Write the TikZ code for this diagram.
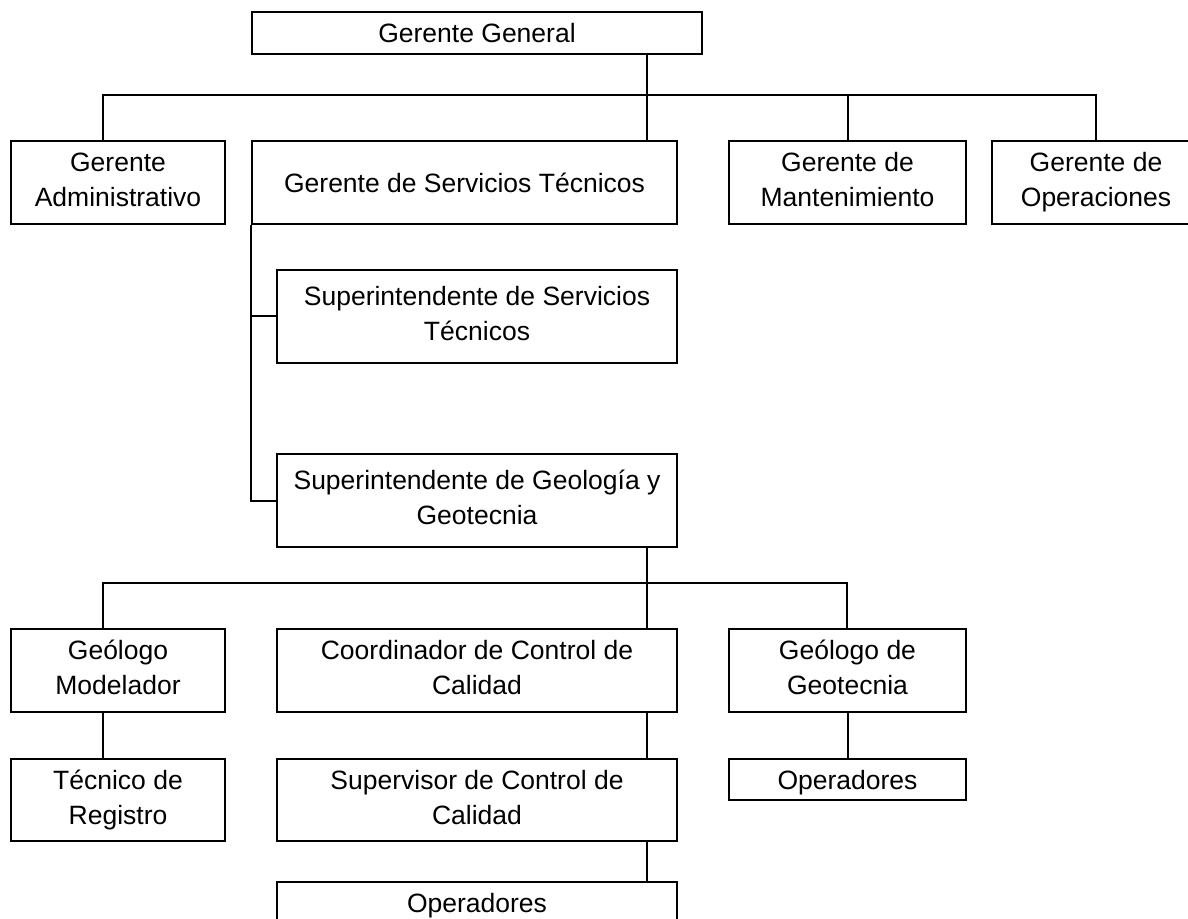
\documentclass[tikz,border=0pt]{standalone}
\usepackage{fontspec}
\setmainfont{Liberation Sans}
\usepackage{tikz}
\newcommand{\lnstrut}{\rule[-3pt]{0pt}{15.6pt}}

\begin{document}
\begin{tikzpicture}[x=0.5pt,y=0.5pt]
	\tikzstyle{every node}+=[inner sep=0pt]
	\tikzstyle{box}=[draw=black, line width=1pt, align=center, font=\fontsize{13.25}{17.5}\selectfont, execute at begin node=\lnstrut, execute at end node=\lnstrut]
	\tikzstyle{wbox}=[box, minimum width=200pt, minimum height=41.5pt]
	\tikzstyle{nbox}=[box, minimum width=107pt, minimum height=41.5pt]
	\tikzstyle{mbox}=[box, minimum width=118.5pt, minimum height=41.5pt]
	\useasboundingbox (0,0) rectangle (1188,-919);
	\clip (0,0) rectangle (1188,-919);
	\node [box, minimum width=225pt, minimum height=21pt] (gg) at (477,-33) {Gerente General};
	\node [nbox] (adm) at (118,-182.5) {Gerente\\Administrativo};
	\node [box, minimum width=212.5pt, minimum height=41.5pt] (gst) at (464.5,-182.5) {Gerente de Servicios T\'ecnicos};
	\node [mbox] (mant) at (847.5,-182.5) {Gerente de\\Mantenimiento};
	\node [box, minimum width=104pt, minimum height=41.5pt] (oper) at (1096,-182.5) {Gerente de\\Operaciones};
	\node [wbox, minimum height=46.5pt] (sst) at (477,-316.5) {Superintendente de Servicios\\T\'ecnicos};
	\node [wbox, minimum height=46.5pt] (sgg) at (477,-500.5) {Superintendente de Geolog\'ia y\\Geotecnia};
	\node [nbox] (gmod) at (118,-670.5) {Ge\'ologo\\Modelador};
	\node [wbox] (ccc) at (477,-670.5) {Coordinador de Control de\\Calidad};
	\node [mbox] (ggeo) at (847.5,-670.5) {Ge\'ologo de\\Geotecnia};
	\node [nbox, minimum height=41pt] (treg) at (118,-800) {T\'ecnico de\\Registro};
	\node [wbox, minimum height=41pt] (scc) at (477,-800) {Supervisor de Control de\\Calidad};
	\node [mbox, minimum height=20.5pt] (opa) at (847.5,-779.5) {Operadores};
	\node [wbox, minimum height=21pt] (opb) at (477,-903) {Operadores};
	\coordinate (busa) at (103,-95);
	\coordinate (busb) at (1096,-95);
	\coordinate (tapa) at (647,-95);
	\coordinate (busc) at (103,-583);
	\coordinate (busd) at (847,-583);
	\coordinate (tapc) at (647,-583);
	\draw [black, line width=1pt] (busa |- adm.north) -- (busa) -- (busb) -- (oper.north);
	\draw [black, line width=1pt] (tapa |- gg.south) -- (tapa |- gst.north);
	\draw [black, line width=1pt] (mant.north |- busa) -- (mant.north);
	\draw [black, line width=1pt] (gst.south west) -- (gst.south west |- sgg.west) -- (sgg.west);
	\draw [black, line width=1pt] (gst.south west |- sst.west) -- (sst.west);
	\draw [black, line width=1pt] (busc |- gmod.north) -- (busc) -- (busd) -- (busd |- ggeo.north);
	\draw [black, line width=1pt] (tapc |- sgg.south) -- (tapc |- ccc.north);
	\draw [black, line width=1pt] (busc |- gmod.south) -- (busc |- treg.north);
	\draw [black, line width=1pt] (tapc |- ccc.south) -- (tapc |- scc.north);
	\draw [black, line width=1pt] (tapc |- scc.south) -- (tapc |- opb.north);
	\draw [black, line width=1pt] (ggeo.south) -- (opa.north);
\end{tikzpicture}
\end{document}
